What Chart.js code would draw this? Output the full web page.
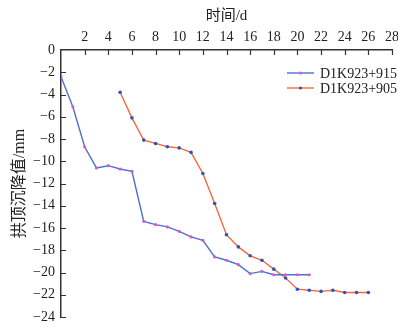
<!DOCTYPE html>
<html>
<head>
<meta charset="utf-8">
<script src="https://cdn.jsdelivr.net/npm/chart.js@4"></script>
<style>
  html, body { margin: 0; padding: 0; background: #fff; overflow: hidden; }
  #wrap { width: 398px; height: 327px; }
</style>
</head>
<body>
<div id="wrap"><canvas id="c" width="398" height="327"></canvas></div>
<script>
// data
const days915 = [0, 1, 2, 3, 4, 5, 6, 7, 8, 9, 10, 11, 12, 13, 14, 15, 16, 17, 18, 19, 20, 21];
const settle915 = [-2.4, -5.1, -8.7, -10.6, -10.4, -10.7, -10.9, -15.4, -15.7, -15.9, -16.3, -16.8, -17.1, -18.6, -18.9, -19.3, -20.1, -19.9, -20.2, -20.2, -20.2, -20.2];
const days905 = [5, 6, 7, 8, 9, 10, 11, 12, 13, 14, 15, 16, 17, 18, 19, 20, 21, 22, 23, 24, 25, 26];
const settle905 = [-3.8, -6.1, -8.1, -8.4, -8.7, -8.8, -9.2, -11.1, -13.8, -16.6, -17.7, -18.5, -18.9, -19.7, -20.5, -21.5, -21.6, -21.7, -21.6, -21.8, -21.8, -21.8];
const seriesNames = ['D1K923+915', 'D1K923+905'];
const xTitle = '时间/d';
const yTitle = '拱顶沉降值/mm';

const serif = '"Liberation Serif", "Noto Sans CJK SC", serif';
const axisColor = '#333';

function toPoints(xs, ys) {
    return xs.map((x, i) => ({ x: x, y: ys[i] }));
}

// ticks point inward, as in the figure
const innerTicks = {
    id: 'innerTicks',
    afterDraw(chart) {
        const ctx = chart.ctx;
        const xs = chart.scales.x, ys = chart.scales.y;
        const area = chart.chartArea;
        ctx.save();
        ctx.strokeStyle = axisColor;
        ctx.lineWidth = 1.2;
        ctx.beginPath();
        xs.ticks.forEach(t => {
            if (t.value === 0) return;
            const px = Math.round(xs.getPixelForValue(t.value)) + 0.5;
            ctx.moveTo(px, area.top);
            ctx.lineTo(px, area.top + 5);
        });
        ys.ticks.forEach(t => {
            if (t.value === 0) return;
            const py = Math.round(ys.getPixelForValue(t.value)) + 0.5;
            ctx.moveTo(area.left, py);
            ctx.lineTo(area.left + 5, py);
        });
        ctx.stroke();
        ctx.restore();
    }
};

// legend drawn as line + marker + label, top right
const lineLegend = {
    id: 'lineLegend',
    afterDraw(chart) {
        const ctx = chart.ctx;
        ctx.save();
        ctx.font = '14px ' + serif;
        ctx.textBaseline = 'middle';
        chart.data.datasets.forEach((ds, i) => {
            const y = 73 + i * 15;
            ctx.strokeStyle = ds.borderColor;
            ctx.lineWidth = 1.4;
            ctx.beginPath();
            ctx.moveTo(287, y);
            ctx.lineTo(314, y);
            ctx.stroke();
            ctx.fillStyle = ds.pointBackgroundColor;
            ctx.beginPath();
            ctx.arc(300.5, y, 1.6, 0, Math.PI * 2);
            ctx.fill();
            ctx.fillStyle = '#222';
            ctx.fillText(ds.label, 320, y + 1);
        });
        ctx.restore();
    }
};

new Chart(document.getElementById('c'), {
    type: 'line',
    data: {
        datasets: [
            {
                label: seriesNames[0], data: toPoints(days915, settle915),
                borderColor: '#4a70d0', borderWidth: 1.4,
                pointBackgroundColor: '#d45cc8', pointBorderWidth: 0, pointRadius: 1.6,
                tension: 0
            },
            {
                label: seriesNames[1], data: toPoints(days905, settle905),
                borderColor: '#f36a3e', borderWidth: 1.4,
                pointBackgroundColor: '#2d55b5', pointBorderWidth: 0, pointRadius: 1.8,
                tension: 0
            }
        ]
    },
    options: {
        responsive: false,
        animation: false,
        layout: { padding: 0 },
        plugins: { legend: { display: false }, tooltip: { enabled: false } },
        scales: {
            x: {
                type: 'linear', position: 'top', min: 0, max: 28,
                afterFit: s => { s.height = 50; s.paddingRight = 6; s.paddingLeft = 0; },
                border: { display: true, color: axisColor, width: 1.5 },
                grid: { display: false, drawTicks: false },
                ticks: {
                    stepSize: 2, padding: 4, color: '#222', maxRotation: 0,
                    font: { family: serif, size: 14 },
                    callback: v => v === 0 ? '' : String(v)
                },
                title: {
                    display: true, text: xTitle, color: '#222',
                    font: { family: serif, size: 15 }, padding: { top: 7, bottom: 0 }
                }
            },
            y: {
                type: 'linear', min: -24, max: 0,
                afterFit: s => { s.width = 61; s.paddingBottom = 10; s.paddingTop = 0; },
                border: { display: true, color: axisColor, width: 1.5 },
                grid: { display: false, drawTicks: false },
                ticks: {
                    stepSize: 2, padding: 6, color: '#222',
                    font: { family: serif, size: 14 },
                    callback: v => v < 0 ? '\u2212' + Math.abs(v) : String(v)
                },
                title: {
                    display: true, text: yTitle, color: '#222',
                    font: { family: serif, size: 16 }, padding: { top: 10, bottom: 0 }
                }
            }
        }
    },
    plugins: [innerTicks, lineLegend]
});
</script>
</body>
</html>
